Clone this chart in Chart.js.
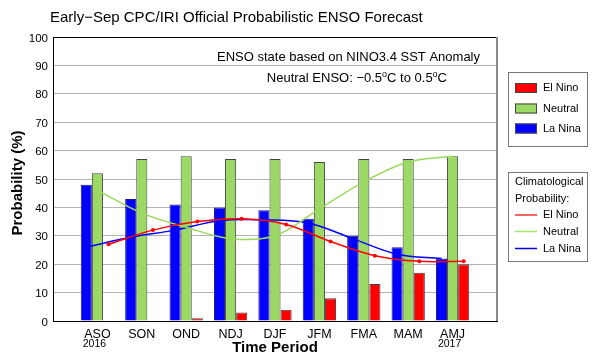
<!DOCTYPE html>
<html>
<head>
<meta charset="utf-8">
<script src="https://cdn.jsdelivr.net/npm/chart.js@4"></script>
<style>
  body { margin: 0; background: #fff; }
  canvas { display: block; }
</style>
</head>
<body>
<canvas id="myChart" width="597" height="362"></canvas>
<script>
const periods = ['ASO', 'SON', 'OND', 'NDJ', 'DJF', 'JFM', 'FMA', 'MAM', 'AMJ'];
const years = ['2016', '', '', '', '', '', '', '', '2017'];

// forecast probabilities (%)
const laNina = [48, 43, 41, 40, 39, 36, 30, 26, 22];
const neutral = [52, 57, 58, 57, 57, 56, 57, 57, 58];
const elNino = [0, 0, 1, 3, 4, 8, 13, 17, 20];

// climatological probabilities (%)
const climElNino = [27, 32, 35, 36, 34, 28, 23, 21, 21];
const climNeutral = [46, 38, 33, 29, 30, 39.5, 49, 56, 58];
const climLaNina = [26, 29.5, 32, 35.3, 35.6, 34.5, 29, 23.5, 22];

const FONT = "'Liberation Sans', Arial, sans-serif";
Chart.defaults.font.family = FONT;
Chart.defaults.color = '#000';

const RED = '#ff0000';
const GREEN = '#9cd864';
const BLUE = '#0000ff';

function pts(arr, shift) {
  return arr.map((v, i) => ({ x: i + 1 + shift, y: v }));
}

const decor = {
  id: 'decor',
  afterDraw(chart) {
    const { ctx, chartArea: a, scales } = chart;
    ctx.save();

    // frame top / right
    ctx.strokeStyle = '#000';
    ctx.lineWidth = 1;
    ctx.beginPath();
    ctx.moveTo(a.left, a.top + 0.5);
    ctx.lineTo(a.right, a.top + 0.5);
    ctx.stroke();
    ctx.strokeStyle = '#8a8a8a';
    ctx.lineWidth = 2;
    ctx.beginPath();
    ctx.moveTo(a.right, a.top);
    ctx.lineTo(a.right, a.bottom);
    ctx.stroke();

    // title
    ctx.fillStyle = '#000';
    ctx.textBaseline = 'alphabetic';
    ctx.textAlign = 'left';
    ctx.font = '15px ' + FONT;
    ctx.fillText('Early\u2212Sep CPC/IRI Official Probabilistic ENSO Forecast', 50, 22);

    // axis titles
    ctx.font = 'bold 15px ' + FONT;
    ctx.textAlign = 'center';
    ctx.fillText('Time Period', (a.left + a.right) / 2, 352);
    ctx.save();
    ctx.translate(22, 183);
    ctx.rotate(-Math.PI / 2);
    ctx.fillText('Probability (%)', 0, 0);
    ctx.restore();

    // years under first/last season
    ctx.font = '10.5px ' + FONT;
    years.forEach((y, i) => {
      if (y) ctx.fillText(y, scales.x.getPixelForValue(i + 1) - 3, 347);
    });

    // note text inside plot
    ctx.font = '13px ' + FONT;
    ctx.textAlign = 'right';
    ctx.fillText('ENSO state based on NINO3.4 SST Anomaly', 480, 61);

    const parts = [
      ['Neutral ENSO: \u22120.5', false],
      ['o', true],
      ['C to 0.5', false],
      ['o', true],
      ['C', false]
    ];
    const fontFor = (sup) => (sup ? '9px ' : '13px ') + FONT;
    let total = 0;
    parts.forEach(([t, sup]) => { ctx.font = fontFor(sup); total += ctx.measureText(t).width; });
    let x = 447 - total;
    ctx.textAlign = 'left';
    parts.forEach(([t, sup]) => {
      ctx.font = fontFor(sup);
      ctx.fillText(t, x, sup ? 77 : 82);
      x += ctx.measureText(t).width;
    });

    // legend 1: bars
    ctx.strokeStyle = '#777';
    ctx.lineWidth = 1;
    ctx.strokeRect(508.5, 72.5, 79, 74);
    ctx.font = '11px ' + FONT;
    ctx.textBaseline = 'middle';
    const barItems = [['El Nino', RED, 88], ['Neutral', GREEN, 108.5], ['La Nina', BLUE, 128.5]];
    barItems.forEach(([label, col, cy]) => {
      ctx.fillStyle = col;
      ctx.fillRect(515, cy - 5, 22, 10);
      ctx.strokeStyle = '#444';
      ctx.strokeRect(515.5, cy - 4.5, 21, 9);
      ctx.fillStyle = '#000';
      ctx.fillText(label, 543, cy);
    });

    // legend 2: climatology lines
    ctx.strokeStyle = '#777';
    ctx.strokeRect(508.5, 172.5, 79, 89);
    ctx.fillStyle = '#000';
    ctx.fillText('Climatological', 515, 182);
    ctx.fillText('Probability:', 515, 198.5);
    const lineItems = [['El Nino', '#ff3030', 215], ['Neutral', '#9ee86a', 231.5], ['La Nina', '#0000dd', 248.5]];
    lineItems.forEach(([label, col, cy]) => {
      ctx.strokeStyle = col;
      ctx.lineWidth = 1.5;
      ctx.beginPath();
      ctx.moveTo(515, cy);
      ctx.lineTo(537, cy);
      ctx.stroke();
      ctx.fillStyle = '#000';
      ctx.fillText(label, 543, cy);
    });

    ctx.restore();
  }
};

const barStyle = {
  borderColor: '#444',
  borderWidth: 1,
  borderSkipped: 'start',
  categoryPercentage: 0.75,
  barPercentage: 1,
  order: 1
};

const lineStyle = {
  type: 'line',
  borderWidth: 1.5,
  pointRadius: 0,
  tension: 0.35,
  fill: false,
  order: 0
};

new Chart(document.getElementById('myChart').getContext('2d'), {
  type: 'bar',
  data: {
    datasets: [
      { ...barStyle, label: 'La Nina', data: pts(laNina, 0), backgroundColor: BLUE, borderColor: '#1a1a80' },
      { ...barStyle, label: 'Neutral', data: pts(neutral, 0), backgroundColor: GREEN },
      { ...barStyle, label: 'El Nino', data: pts(elNino, 0), backgroundColor: RED },
      { ...lineStyle, label: 'Clim El Nino', data: pts(climElNino, 0.25), borderColor: RED,
        pointRadius: 2, pointBackgroundColor: RED, pointBorderWidth: 0 },
      { ...lineStyle, label: 'Clim Neutral', data: pts(climNeutral, 0), borderColor: '#9ad85f' },
      { ...lineStyle, label: 'Clim La Nina', data: pts(climLaNina, -0.25), borderColor: BLUE }
    ]
  },
  options: {
    responsive: false,
    animation: false,
    layout: { padding: { top: 37, right: 100, left: 0, bottom: 0 } },
    plugins: {
      legend: { display: false },
      tooltip: { enabled: false },
      title: { display: false }
    },
    scales: {
      x: {
        type: 'linear',
        min: 0,
        max: 10,
        offset: false,
        grid: { display: false, drawTicks: false, offset: false },
        border: { color: '#000', width: 1 },
        ticks: {
          stepSize: 1,
          autoSkip: false,
          maxRotation: 0,
          padding: 6,
          font: { size: 12.5 },
          callback: (v) => periods[v - 1] || ''
        },
        afterFit: (s) => { s.height = 41; }
      },
      y: {
        min: 0,
        max: 100,
        grid: { color: '#b4b4b4', drawTicks: false },
        border: { color: '#000', width: 1 },
        ticks: { stepSize: 10, padding: 5, labelOffset: 1.5, font: { size: 11.5 } },
        afterFit: (s) => { s.width = 53; }
      }
    }
  },
  plugins: [decor]
});
</script>
</body>
</html>
